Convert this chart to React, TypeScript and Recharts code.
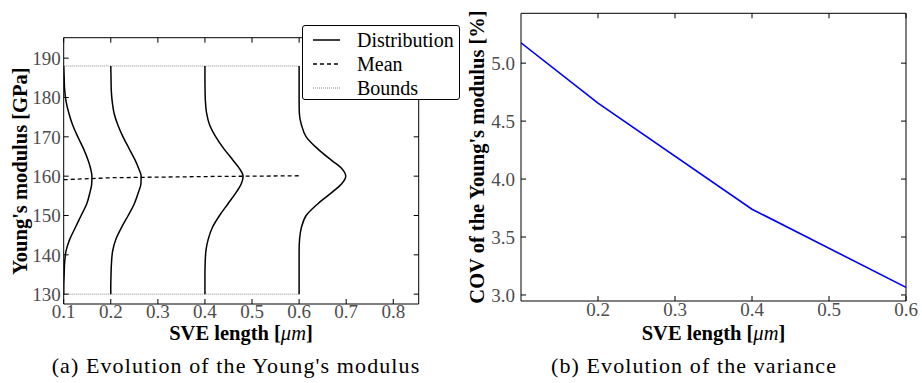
import { Label, Legend, Line, LineChart, XAxis, YAxis } from "recharts";

const SERIF = '"Liberation Serif", "Times New Roman", serif';
const TICK_GREY = "#4d4d4d";

// SVE lengths where the distributions were evaluated
const sveLengths = [0.1, 0.2, 0.4, 0.6];
const meanModulus = [159.1, 159.6, 159.9, 160.1];
const boundValues = [130, 188];
const covValues = [5.175, 4.655, 3.74, 3.066];

// density curves: horizontal extent (in SVE-length units) at each modulus level
const modulusLevels = [130, 132, 135, 138, 141, 144, 147, 150, 153, 156, 158, 160, 162, 164, 167, 170, 173, 176, 179, 182, 185, 188];
const density01 = [0, 0, 0.001, 0.002, 0.005, 0.013, 0.025, 0.037, 0.049, 0.056, 0.0595, 0.06, 0.057, 0.052, 0.042, 0.03, 0.019, 0.011, 0.005, 0.002, 0.001, 0];
const density02 = [0, 0, 0.0005, 0.0015, 0.004, 0.011, 0.023, 0.037, 0.05, 0.059, 0.064, 0.0645, 0.059, 0.052, 0.039, 0.026, 0.015, 0.007, 0.003, 0.001, 0.0005, 0];
const density04 = [0, 0, 0, 0.0005, 0.002, 0.007, 0.016, 0.031, 0.049, 0.067, 0.077, 0.081, 0.073, 0.06, 0.04, 0.023, 0.01, 0.0035, 0.001, 0.0002, 0, 0];
const density06 = [0, 0, 0, 0, 0, 0.001, 0.005, 0.015, 0.04, 0.071, 0.09, 0.099, 0.09, 0.069, 0.039, 0.015, 0.005, 0.0005, 0, 0, 0, 0];

const leftXTicks = [0.1, 0.2, 0.3, 0.4, 0.5, 0.6, 0.7, 0.8];
const leftYTicks = [130, 140, 150, 160, 170, 180, 190];
const rightXTicks = [0.2, 0.3, 0.4, 0.5, 0.6];
const rightYTicks = [3.0, 3.5, 4.0, 4.5, 5.0];

const densities = [density01, density02, density04, density06];
const distributionData = sveLengths.map((s, i) =>
  modulusLevels.map((m, j) => ({ x: s + densities[i][j], y: m }))
);
const meanData = sveLengths.map((s, i) => ({ x: s, y: meanModulus[i] }));
const boundData = boundValues.map((b) => [
  { x: sveLengths[0], y: b },
  { x: sveLengths[sveLengths.length - 1], y: b },
]);
const covData = sveLengths.map((s, i) => ({ x: s, y: covValues[i] }));

const tickStyle = { fill: TICK_GREY, fontSize: 19, fontFamily: SERIF };
const axisStroke = { stroke: "#000", strokeWidth: 1 };
const noTick = () => <g />;
const TITLE_SIZE = 20.5;

function makeXTitle(cx: number) {
  return () => (
    <text x={cx} y={333} textAnchor="middle" dominantBaseline="central" fontFamily={SERIF} fontSize={TITLE_SIZE} fill="#000">
      <tspan fontWeight="bold">SVE length [</tspan>
      <tspan fontStyle="italic">μm</tspan>
      <tspan fontWeight="bold">]</tspan>
    </text>
  );
}

function makeYTitle(text: string, x: number, y: number) {
  return () => (
    <text x={x} y={y} transform={`rotate(-90, ${x}, ${y})`} textAnchor="middle" dominantBaseline="central" fontFamily={SERIF} fontSize={TITLE_SIZE} fontWeight="bold" fill="#000">
      {text}
    </text>
  );
}

function LegendBox() {
  const rows = [
    { name: "Distribution", dash: undefined, color: "#000", width: 1.5 },
    { name: "Mean", dash: "4 3", color: "#000", width: 1.3 },
    { name: "Bounds", dash: "1 1", color: "#888", width: 1 },
  ];
  return (
    <div
      style={{
        border: "1px solid #000",
        borderRadius: 3,
        background: "#fff",
        width: 158,
        height: 75,
        boxSizing: "border-box",
        paddingTop: 2,
        fontFamily: SERIF,
        fontSize: 20,
        color: "#000",
      }}
    >
      {rows.map((r) => (
        <div key={r.name} style={{ display: "flex", alignItems: "center", height: 24 }}>
          <svg width={44} height={10} style={{ marginLeft: 10 }}>
            <line x1={0} x2={27} y1={5} y2={5} stroke={r.color} strokeWidth={r.width} strokeDasharray={r.dash} />
          </svg>
          <span style={{ lineHeight: "24px" }}>{r.name}</span>
        </div>
      ))}
    </div>
  );
}

function ModulusChart() {
  return (
    <LineChart width={462} height={383} margin={{ top: 36.7, right: 42.3, left: 3.7, bottom: 49 }}>
      <XAxis
        xAxisId="b"
        dataKey="x"
        type="number"
        domain={[0.1, 0.854]}
        ticks={leftXTicks}
        allowDataOverflow
        height={30}
        tickSize={-5}
        tickMargin={6}
        tick={tickStyle}
        tickFormatter={(v: number) => v.toFixed(1)}
        axisLine={axisStroke}
        tickLine={axisStroke}
      >
        <Label content={makeXTitle(241)} />
      </XAxis>
      <XAxis
        xAxisId="t"
        orientation="top"
        dataKey="x"
        type="number"
        domain={[0.1, 0.854]}
        ticks={leftXTicks}
        allowDataOverflow
        height={1}
        tickSize={-5}
        tick={noTick}
        axisLine={axisStroke}
        tickLine={axisStroke}
      />
      <YAxis
        yAxisId="l"
        type="number"
        domain={[127.5, 195.2]}
        ticks={leftYTicks}
        allowDataOverflow
        width={60}
        tickSize={-5}
        tickMargin={8}
        tick={tickStyle}
        axisLine={axisStroke}
        tickLine={axisStroke}
      >
        <Label content={makeYTitle("Young's modulus [GPa]", 20, 171)} />
      </YAxis>
      <YAxis
        yAxisId="r"
        orientation="right"
        type="number"
        domain={[127.5, 195.2]}
        ticks={leftYTicks}
        allowDataOverflow
        width={1}
        tickSize={-5}
        tick={noTick}
        axisLine={axisStroke}
        tickLine={axisStroke}
      />
      <Legend
        layout="vertical"
        align="center"
        verticalAlign="middle"
        content={<LegendBox />}
        wrapperStyle={{ left: 302, top: 25, width: 158, height: 75 }}
      />
      {/* invisible series so the mirrored frame axes get a domain */}
      <Line xAxisId="t" yAxisId="r" data={meanData} dataKey="y" stroke="none" dot={false} activeDot={false} legendType="none" isAnimationActive={false} />
      {boundData.map((d, i) => (
        <Line key={`b${i}`} xAxisId="b" yAxisId="l" data={d} dataKey="y" name="Bounds" stroke="#888" strokeWidth={1} strokeDasharray="1 1" dot={false} isAnimationActive={false} />
      ))}
      <Line xAxisId="b" yAxisId="l" data={meanData} dataKey="y" name="Mean" type="linear" stroke="#000" strokeWidth={1.3} strokeDasharray="4 3" dot={false} isAnimationActive={false} />
      {distributionData.map((d, i) => (
        <Line key={`d${i}`} xAxisId="b" yAxisId="l" data={d} dataKey="y" name="Distribution" type="monotoneY" stroke="#000" strokeWidth={1.5} dot={false} isAnimationActive={false} />
      ))}
    </LineChart>
  );
}

function CovChart() {
  return (
    <LineChart width={462} height={383} margin={{ top: 12.3, right: 15, left: 1, bottom: 52 }}>
      <XAxis
        xAxisId="b"
        dataKey="x"
        type="number"
        domain={[0.1, 0.6]}
        ticks={rightXTicks}
        allowDataOverflow
        height={30}
        tickSize={-5}
        tickMargin={7}
        tick={tickStyle}
        tickFormatter={(v: number) => v.toFixed(1)}
        axisLine={axisStroke}
        tickLine={axisStroke}
      >
        <Label content={makeXTitle(253.5)} />
      </XAxis>
      <XAxis
        xAxisId="t"
        orientation="top"
        dataKey="x"
        type="number"
        domain={[0.1, 0.6]}
        ticks={rightXTicks}
        allowDataOverflow
        height={1}
        tickSize={-5}
        tick={noTick}
        axisLine={axisStroke}
        tickLine={axisStroke}
      />
      <YAxis
        yAxisId="l"
        type="number"
        domain={[2.948, 5.43]}
        ticks={rightYTicks}
        allowDataOverflow
        width={60}
        tickSize={-5}
        tickMargin={11}
        tick={tickStyle}
        tickFormatter={(v: number) => v.toFixed(1)}
        axisLine={axisStroke}
        tickLine={axisStroke}
      >
        <Label content={makeYTitle("COV of the Young's modulus [%]", 17, 157)} />
      </YAxis>
      <YAxis
        yAxisId="r"
        orientation="right"
        type="number"
        domain={[2.948, 5.43]}
        ticks={rightYTicks}
        allowDataOverflow
        width={1}
        tickSize={-5}
        tick={noTick}
        axisLine={axisStroke}
        tickLine={axisStroke}
      />
      <Line xAxisId="t" yAxisId="r" data={covData} dataKey="y" stroke="none" dot={false} activeDot={false} legendType="none" isAnimationActive={false} />
      <Line xAxisId="b" yAxisId="l" data={covData} dataKey="y" type="linear" stroke="#0000ff" strokeWidth={1.6} dot={false} isAnimationActive={false} />
    </LineChart>
  );
}

const captionStyle = {
  position: "absolute" as const,
  top: 353,
  fontFamily: SERIF,
  fontSize: 22,
  letterSpacing: 1.1,
  color: "#000",
  textAlign: "center" as const,
  whiteSpace: "nowrap" as const,
  lineHeight: "26px",
};

export default function App() {
  return (
    <div style={{ position: "absolute", left: 0, top: 0, width: 922, height: 383, background: "#fff", overflow: "hidden" }}>
      <div style={{ position: "absolute", left: 0, top: 0 }}>
        <ModulusChart />
      </div>
      <div style={{ position: "absolute", left: 460, top: 0 }}>
        <CovChart />
      </div>
      <div style={{ ...captionStyle, left: 36, width: 400 }}>(a) Evolution of the Young's modulus</div>
      <div style={{ ...captionStyle, left: 494, width: 400 }}>(b) Evolution of the variance</div>
    </div>
  );
}
